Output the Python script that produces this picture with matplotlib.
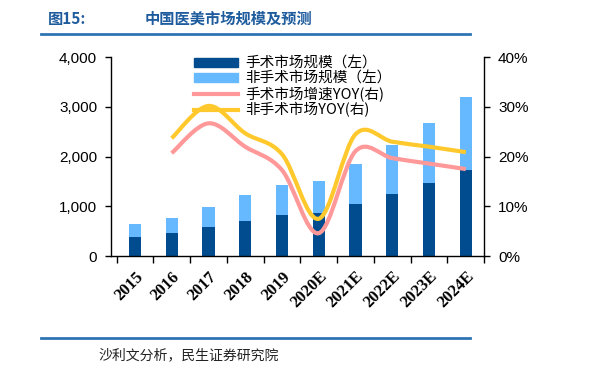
import matplotlib
matplotlib.use("Agg")
import matplotlib.pyplot as plt
import numpy as np
from matplotlib.path import Path
from matplotlib.patches import PathPatch, Patch
from matplotlib.lines import Line2D
from matplotlib.ticker import FuncFormatter, MultipleLocator

plt.rcParams['font.family'] = ['Liberation Sans', 'Noto Sans CJK SC', 'DejaVu Sans']

# data
years = ["2015", "2016", "2017", "2018", "2019", "2020E", "2021E", "2022E", "2023E", "2024E"]
surgical = [376, 463, 577, 711, 831, 868, 1040, 1247, 1475, 1736]
total = [638, 771, 992, 1221, 1435, 1515, 1845, 2233, 2676, 3193]
nonsurgical = [t - s for t, s in zip(total, surgical)]
# YOY growth (%), starting 2016
yoy_years = years[1:]
surgical_yoy = [20.7, 26.7, 22.0, 17.3, 4.6, 21.1, 19.7, 18.6, 17.5]
nonsurgical_yoy = [23.7, 30.2, 24.7, 20.5, 7.5, 24.5, 23.0, 22.0, 20.9]

dark_blue = "#004C8F"
light_blue = "#66B8FF"
pink = "#FF9999"
gold = "#FFC92E"
title_blue = "#1F5C9E"


def smooth_path(xs, ys):
    # excel-like smoothed line: catmull-rom as cubic bezier segments
    pts = np.column_stack([xs, ys]).astype(float)
    n = len(pts)
    verts = [pts[0]]
    codes = [Path.MOVETO]
    for i in range(n - 1):
        p0 = pts[i - 1] if i > 0 else pts[i]
        p1 = pts[i]
        p2 = pts[i + 1]
        p3 = pts[i + 2] if i + 2 < n else pts[i + 1]
        c1 = p1 + (p2 - p0) / 6.0
        c2 = p2 - (p3 - p1) / 6.0
        verts += [c1, c2, p2]
        codes += [Path.CURVE4] * 3
    return Path(verts, codes)


fig = plt.figure(figsize=(6, 3.69), dpi=100)
ax = fig.add_axes([0.185, 0.306, 0.622, 0.539])
x = np.arange(len(years))
w = 0.33
ax.bar(x, surgical, w, color=dark_blue, zorder=2)
ax.bar(x, nonsurgical, w, bottom=surgical, color=light_blue, zorder=2)
ax.set_ylim(0, 4000)
ax.set_xlim(-0.65, 9.5)
ax.yaxis.set_major_locator(MultipleLocator(1000))
ax.yaxis.set_major_formatter(FuncFormatter(lambda v, p: f"{int(v):,}"))
ax.set_xticks(x)
ax.set_xticklabels(years, rotation=45, ha='right', va='top', rotation_mode='anchor',
                   fontfamily='Liberation Serif', fontweight='bold', fontsize=12)
ax.tick_params(axis='x', length=0, pad=9)
ax.set_xticks(np.arange(-0.5, 10, 1), minor=True)
ax.tick_params(axis='x', which='minor', length=5, width=1, direction='out')
ax.tick_params(axis='y', labelsize=11, length=4, width=1, direction='out', pad=6)
for s in ['top', 'right']:
    ax.spines[s].set_visible(False)
ax.spines['left'].set_linewidth(1)
ax.spines['bottom'].set_linewidth(1)

ax2 = ax.twinx()
ax2.set_ylim(0, 40)
ax2.yaxis.set_major_locator(MultipleLocator(10))
ax2.yaxis.set_major_formatter(FuncFormatter(lambda v, p: f"{int(v)}%"))
ax2.tick_params(axis='y', labelsize=11, length=4, width=1, direction='out', pad=6)
for s in ['top', 'left', 'bottom']:
    ax2.spines[s].set_visible(False)
ax2.spines['right'].set_linewidth(1)

xl = x[1:]
ax2.add_patch(PathPatch(smooth_path(xl, surgical_yoy), fill=False, edgecolor=pink, lw=3, zorder=3))
ax2.add_patch(PathPatch(smooth_path(xl, nonsurgical_yoy), fill=False, edgecolor=gold, lw=3, zorder=4))

handles = [Patch(color=dark_blue), Patch(color=light_blue),
           Line2D([], [], color=pink, lw=3), Line2D([], [], color=gold, lw=3)]
labels = ["手术市场规模（左）", "非手术市场规模（左）", "手术市场增速YOY(右)", "非手术市场YOY(右)"]
leg = ax2.legend(handles, labels, loc='upper left', bbox_to_anchor=(194 / 600, 1 - 57 / 369),
                 bbox_transform=fig.transFigure, frameon=False, fontsize=10.5,
                 handlelength=3.0, handleheight=0.55, labelspacing=0.05, handletextpad=0.5,
                 borderaxespad=0, borderpad=0)
for t in leg.get_texts():
    t.set_fontfamily(['Noto Sans CJK SC', 'DejaVu Sans'])

# header and footer
fig.text(48 / 600, 1 - 19 / 369, "图15:", fontsize=11, fontweight='bold', color=title_blue,
         va='center', ha='left', fontfamily=['Noto Sans CJK SC', 'DejaVu Sans'])
fig.text(145 / 600, 1 - 19 / 369, "中国医美市场规模及预测", fontsize=11, fontweight='bold',
         color=title_blue, va='center', ha='left', fontfamily=['Noto Sans CJK SC', 'DejaVu Sans'])
fig.add_artist(Line2D([41 / 600, 470 / 600], [1 - 33.5 / 369] * 2, color="#2E74B5", lw=2))
fig.add_artist(Line2D([41 / 600, 470 / 600], [1 - 338 / 369] * 2, color="#2E74B5", lw=2))
fig.text(98 / 600, 1 - 355 / 369, "沙利文分析，民生证券研究院", fontsize=10, color="#222222",
         va='center', ha='left', fontfamily=['Noto Sans CJK SC', 'DejaVu Sans'])

fig.savefig("out.png", dpi=100)
